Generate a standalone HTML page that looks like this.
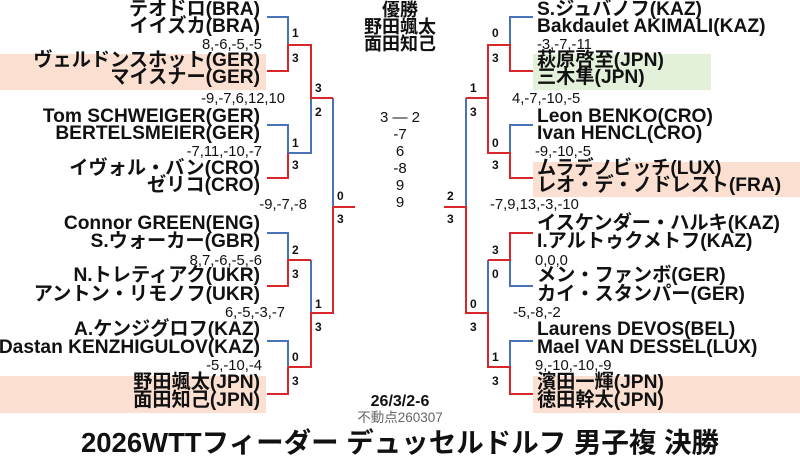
<!DOCTYPE html>
<html><head><meta charset="utf-8"><style>
body{margin:0;width:800px;height:467px;background:#fff;position:relative;overflow:hidden;font-family:"Liberation Sans","Noto Sans CJK JP",sans-serif;color:#111}
.t{position:absolute;white-space:nowrap;line-height:20px;height:20px}
.n{font-size:19.2px;font-weight:bold}
.L{right:540px;text-align:right}
.R{left:537px}
.s{font-size:14.8px}
.k{font-size:12px;font-weight:bold}
.c{left:300px;width:200px;text-align:center}
.hl{position:absolute}
svg{position:absolute;left:0;top:0}
</style></head><body>
<div class="hl" style="left:0;top:54px;width:266px;height:36px;background:#fbe0d2"></div>
<div class="hl" style="left:0;top:376px;width:266px;height:37px;background:#fbe0d2"></div>
<div class="hl" style="left:533px;top:54px;width:178px;height:36px;background:#e3f0da"></div>
<div class="hl" style="left:533px;top:162px;width:267px;height:35px;background:#fbe0d2"></div>
<div class="hl" style="left:533px;top:376px;width:267px;height:37px;background:#fbe0d2"></div>
<svg width="800" height="467" fill="none" stroke-width="2">
<g stroke="#4a72b8">
<path d="M267 17H288V45"/><path d="M267 125H288V153"/><path d="M311 98V153H288"/><path d="M333 98V207"/>
<path d="M267 233H288V260"/><path d="M311 260V313"/><path d="M267 341H288V367"/>
<path d="M533 17H510V45"/><path d="M533 125H510V153"/><path d="M466 98V207"/>
<path d="M533 286H510V260"/><path d="M488 260V313"/><path d="M533 341H510V367"/>
</g>
<g stroke="#d9262b">
<path d="M267 71H288V45H311V98H333"/><path d="M267 178H288V153"/><path d="M355 207H333V313H311V367H288"/>
<path d="M267 286H288V260H311"/><path d="M267 394H288V367"/>
<path d="M533 71H510V45H488V98H466"/><path d="M488 98V153H510V178H533"/><path d="M444 207H466V313H488V367H510V394H533"/>
<path d="M533 233H510V260H488"/>
</g>
</svg>
<div class="t n L" style="top:0">テオドロ(BRA)</div>
<div class="t n L" style="top:17px">イイズカ(BRA)</div>
<div class="t n L" style="top:51px">ヴェルドンスホット(GER)</div>
<div class="t n L" style="top:68px">マイスナー(GER)</div>
<div class="t n L" style="top:107px">Tom SCHWEIGER(GER)</div>
<div class="t n L" style="top:124px">BERTELSMEIER(GER)</div>
<div class="t n L" style="top:159px">イヴォル・バン(CRO)</div>
<div class="t n L" style="top:176px">ゼリコ(CRO)</div>
<div class="t n L" style="top:214px">Connor GREEN(ENG)</div>
<div class="t n L" style="top:232px">S.ウォーカー(GBR)</div>
<div class="t n L" style="top:266px">N.トレティアク(UKR)</div>
<div class="t n L" style="top:285px">アントン・リモノフ(UKR)</div>
<div class="t n L" style="top:320px">A.ケンジグロフ(KAZ)</div>
<div class="t n L" style="top:338px">Dastan KENZHIGULOV(KAZ)</div>
<div class="t n L" style="top:373px">野田颯太(JPN)</div>
<div class="t n L" style="top:391px">面田知己(JPN)</div>
<div class="t s" style="top:35px;right:538px">8,-6,-5,-5</div>
<div class="t s" style="top:89px;right:515px">-9,-7,6,12,10</div>
<div class="t s" style="top:142px;right:538px">-7,11,-10,-7</div>
<div class="t s" style="top:195px;right:493px">-9,-7,-8</div>
<div class="t s" style="top:251px;right:538px">8,7,-6,-5,-6</div>
<div class="t s" style="top:303px;right:515px">6,-5,-3,-7</div>
<div class="t s" style="top:356px;right:538px">-5,-10,-4</div>
<div class="t k" style="top:23px;left:292px">1</div><div class="t k" style="top:48px;left:292px">3</div>
<div class="t k" style="top:78px;left:315px">3</div><div class="t k" style="top:102px;left:315px">2</div>
<div class="t k" style="top:133px;left:292px">1</div><div class="t k" style="top:155px;left:292px">3</div>
<div class="t k" style="top:186px;left:337px">0</div><div class="t k" style="top:209px;left:337px">3</div>
<div class="t k" style="top:240px;left:292px">2</div><div class="t k" style="top:264px;left:292px">3</div>
<div class="t k" style="top:294px;left:315px">1</div><div class="t k" style="top:317px;left:315px">3</div>
<div class="t k" style="top:347px;left:292px">0</div><div class="t k" style="top:371px;left:292px">3</div>
<div class="t n R" style="top:0">S.ジュバノフ(KAZ)</div>
<div class="t n R" style="top:17px">Bakdaulet AKIMALI(KAZ)</div>
<div class="t n R" style="top:51px">萩原啓至(JPN)</div>
<div class="t n R" style="top:68px">三木隼(JPN)</div>
<div class="t n R" style="top:107px">Leon BENKO(CRO)</div>
<div class="t n R" style="top:124px">Ivan HENCL(CRO)</div>
<div class="t n R" style="top:159px">ムラデノビッチ(LUX)</div>
<div class="t n R" style="top:176px">レオ・デ・ノドレスト(FRA)</div>
<div class="t n R" style="top:214px">イスケンダー・ハルキ(KAZ)</div>
<div class="t n R" style="top:232px">I.アルトゥクメトフ(KAZ)</div>
<div class="t n R" style="top:266px">メン・ファンボ(GER)</div>
<div class="t n R" style="top:285px">カイ・スタンパー(GER)</div>
<div class="t n R" style="top:320px">Laurens DEVOS(BEL)</div>
<div class="t n R" style="top:338px">Mael VAN DESSEL(LUX)</div>
<div class="t n R" style="top:373px">濱田一輝(JPN)</div>
<div class="t n R" style="top:391px">徳田幹太(JPN)</div>
<div class="t s" style="top:35px;left:537px">-3,-7,-11</div>
<div class="t s" style="top:89px;left:512px">4,-7,-10,-5</div>
<div class="t s" style="top:142px;left:535px">-9,-10,-5</div>
<div class="t s" style="top:195px;left:490px">-7,9,13,-3,-10</div>
<div class="t s" style="top:251px;left:535px">0,0,0</div>
<div class="t s" style="top:303px;left:513px">-5,-8,-2</div>
<div class="t s" style="top:356px;left:535px">9,-10,-10,-9</div>
<div class="t k" style="top:23px;left:492px">0</div><div class="t k" style="top:48px;left:492px">3</div>
<div class="t k" style="top:78px;left:470px">1</div><div class="t k" style="top:102px;left:470px">3</div>
<div class="t k" style="top:133px;left:492px">0</div><div class="t k" style="top:155px;left:492px">3</div>
<div class="t k" style="top:186px;left:447px">2</div><div class="t k" style="top:209px;left:447px">3</div>
<div class="t k" style="top:240px;left:492px">3</div><div class="t k" style="top:264px;left:492px">0</div>
<div class="t k" style="top:294px;left:470px">0</div><div class="t k" style="top:317px;left:470px">3</div>
<div class="t k" style="top:347px;left:492px">1</div><div class="t k" style="top:371px;left:492px">3</div>
<div class="t c" style="top:0;font-size:18px;font-weight:bold">優勝</div>
<div class="t c" style="top:17px;font-size:18px;font-weight:bold">野田颯太</div>
<div class="t c" style="top:34px;font-size:18px;font-weight:bold">面田知己</div>
<div class="t c" style="top:108px;font-size:15px">3 ― 2</div>
<div class="t c" style="top:125px;font-size:15px">-7</div>
<div class="t c" style="top:142px;font-size:15px">6</div>
<div class="t c" style="top:159px;font-size:15px">-8</div>
<div class="t c" style="top:176px;font-size:15px">9</div>
<div class="t c" style="top:193px;font-size:15px">9</div>
<div class="t c" style="top:392px;font-size:16px;font-weight:bold">26/3/2-6</div>
<div class="t c" style="top:408px;font-size:13.5px;color:#666">不動点260307</div>
<div class="t" style="top:427px;left:0;width:800px;text-align:center;font-size:27.5px;font-weight:bold;line-height:32px;height:32px">2026WTTフィーダー デュッセルドルフ 男子複 決勝</div>
</body></html>
